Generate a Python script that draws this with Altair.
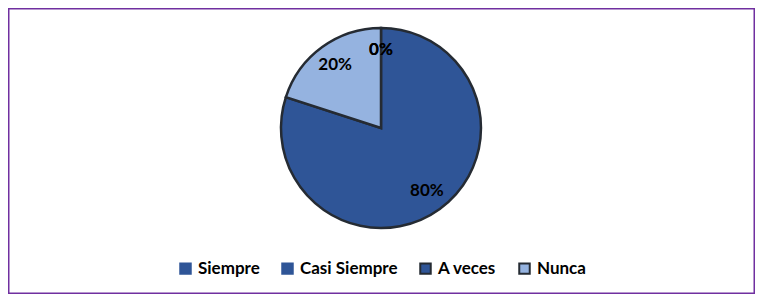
import altair as alt
import pandas as pd

categories = ["Siempre", "Casi Siempre", "A veces", "Nunca"]
values = [0, 0, 80, 20]
labels = ["0%", "0%", "80%", "20%"]
fills = ["#2F5597", "#2F5597", "#2F5597", "#95B3E0"]
strokes = ["#2F5597", "#2F5597", "#252B33", "#252B33"]

df = pd.DataFrame({"cat": categories, "val": values, "lab": labels,
                   "ord": list(range(len(categories)))})

color = alt.Color("cat:N", scale=alt.Scale(domain=categories, range=fills),
                  sort=categories,
                  legend=alt.Legend(title=None, orient="none", direction="horizontal",
                                    legendX=169, legendY=252, symbolType="square",
                                    symbolSize=110, symbolStrokeWidth=2,
                                    labelFont="Lato", labelFontWeight="bold",
                                    labelFontSize=17, labelColor="#000000",
                                    columnPadding=18, labelOffset=4))

base = alt.Chart(df).encode(
    theta=alt.Theta("val:Q", stack=True),
    order=alt.Order("ord:Q"),
)

pie = base.mark_arc(outerRadius=100, strokeWidth=2.5).encode(
    color=color,
    stroke=alt.Stroke("cat:N", scale=alt.Scale(domain=categories, range=strokes),
                      sort=categories),
    x=alt.value(373), y=alt.value(120),
)

text = base.mark_text(radius=78, font="Lato", fontWeight="bold", fontSize=17,
                      color="#000000").encode(
    text="lab:N", x=alt.value(373), y=alt.value(120),
)

chart = (pie + text).properties(width=747, height=286, padding=0).configure_view(
    stroke="#7030A0", strokeWidth=3, fill="white"
)

chart.save("out.html", embed_options={"renderer": "svg", "actions": False})
